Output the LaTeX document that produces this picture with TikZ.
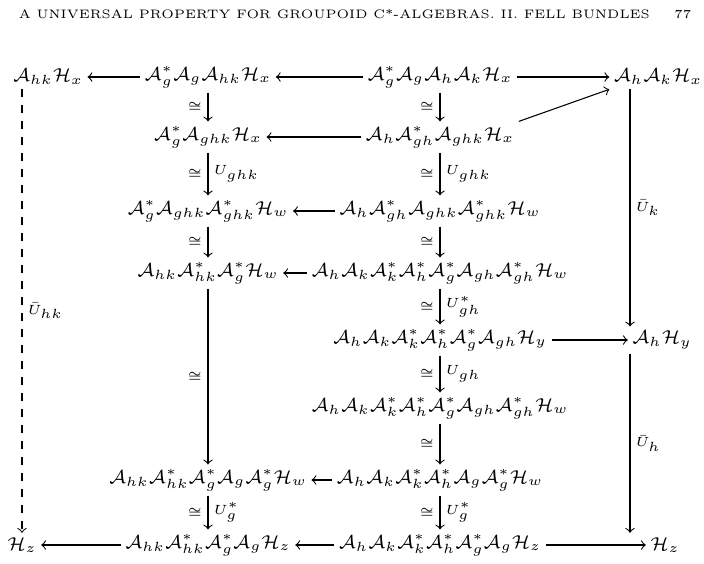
\documentclass[tikz,border=0pt]{standalone}
\usepackage{amsmath,amssymb}
\usetikzlibrary{calc}
\tikzset{
  obj/.style={inner sep=1.5pt,font=\fontsize{7.3}{9}\selectfont},
  map/.style={->,>=to},
  lab/.style={font=\fontsize{5.5}{7}\selectfont,inner sep=2pt},
}
\begin{document}
\begin{tikzpicture}[x=0.375pt,y=-0.375pt]
\useasboundingbox (0,0) rectangle (704,563);
\node[font=\fontsize{4.6}{6}\selectfont] at (355,14) {A UNIVERSAL PROPERTY FOR GROUPOID C*-ALGEBRAS. II. FELL BUNDLES\hspace{2em}77};
% row 1
\node[obj] (a1) at (48,77) {$\mathcal{A}_{hk}\mathcal{H}_x$};
\node[obj] (b1) at (208,77) {$\mathcal{A}_g^*\mathcal{A}_g\mathcal{A}_{hk}\mathcal{H}_x$};
\node[obj] (c1) at (440,77) {$\mathcal{A}_g^*\mathcal{A}_g\mathcal{A}_h\mathcal{A}_k\mathcal{H}_x$};
\node[obj] (d1) at (658,77) {$\mathcal{A}_h\mathcal{A}_k\mathcal{H}_x$};
% rows 2-7
\node[obj] (b2) at (208,137) {$\mathcal{A}_g^*\mathcal{A}_{ghk}\mathcal{H}_x$};
\node[obj] (c2) at (440,137) {$\mathcal{A}_h\mathcal{A}_{gh}^*\mathcal{A}_{ghk}\mathcal{H}_x$};
\node[obj] (b3) at (208,211) {$\mathcal{A}_g^*\mathcal{A}_{ghk}\mathcal{A}_{ghk}^*\mathcal{H}_w$};
\node[obj] (c3) at (440,211) {$\mathcal{A}_h\mathcal{A}_{gh}^*\mathcal{A}_{ghk}\mathcal{A}_{ghk}^*\mathcal{H}_w$};
\node[obj] (b4) at (208,273) {$\mathcal{A}_{hk}\mathcal{A}_{hk}^*\mathcal{A}_g^*\mathcal{H}_w$};
\node[obj] (c4) at (440,273) {$\mathcal{A}_h\mathcal{A}_k\mathcal{A}_k^*\mathcal{A}_h^*\mathcal{A}_g^*\mathcal{A}_{gh}\mathcal{A}_{gh}^*\mathcal{H}_w$};
\node[obj] (c5) at (440,340) {$\mathcal{A}_h\mathcal{A}_k\mathcal{A}_k^*\mathcal{A}_h^*\mathcal{A}_g^*\mathcal{A}_{gh}\mathcal{H}_y$};
\node[obj] (d5) at (662,340) {$\mathcal{A}_h\mathcal{H}_y$};
\node[obj] (c6) at (440,408) {$\mathcal{A}_h\mathcal{A}_k\mathcal{A}_k^*\mathcal{A}_h^*\mathcal{A}_g^*\mathcal{A}_{gh}\mathcal{A}_{gh}^*\mathcal{H}_w$};
\node[obj] (b7) at (208,480) {$\mathcal{A}_{hk}\mathcal{A}_{hk}^*\mathcal{A}_g^*\mathcal{A}_g\mathcal{A}_g^*\mathcal{H}_w$};
\node[obj] (c7) at (440,480) {$\mathcal{A}_h\mathcal{A}_k\mathcal{A}_k^*\mathcal{A}_h^*\mathcal{A}_g\mathcal{A}_g^*\mathcal{H}_w$};
% row 8
\node[obj] (a8) at (22,545) {$\mathcal{H}_z$};
\node[obj] (b8) at (208,545) {$\mathcal{A}_{hk}\mathcal{A}_{hk}^*\mathcal{A}_g^*\mathcal{A}_g\mathcal{H}_z$};
\node[obj] (c8) at (440,545) {$\mathcal{A}_h\mathcal{A}_k\mathcal{A}_k^*\mathcal{A}_h^*\mathcal{A}_g^*\mathcal{A}_g\mathcal{H}_z$};
\node[obj] (d8) at (665,545) {$\mathcal{H}_z$};
\coordinate (lc) at (22,0);
\coordinate (rc) at (630,0);
% horizontal
\draw[map] (b1) -- (a1);
\draw[map] (c1) -- (b1);
\draw[map] (c1) -- (d1);
\draw[map] (c2.north east) -- (d1.south west);
\draw[map] (c2) -- (b2);
\draw[map] (c3) -- (b3);
\draw[map] (c4) -- (b4);
\draw[map] (c5) -- (d5);
\draw[map] (c7) -- (b7);
\draw[map] (b8) -- (a8);
\draw[map] (c8) -- (b8);
\draw[map] (c8) -- (d8);
% vertical, middle columns
\draw[map] (b1) -- node[lab,left]{$\cong$} (b2);
\draw[map] (b2) -- node[lab,left]{$\cong$} node[lab,right]{$U_{ghk}$} (b3);
\draw[map] (b3) -- node[lab,left]{$\cong$} (b4);
\draw[map] (b4) -- node[lab,left]{$\cong$} (b7);
\draw[map] (b7) -- node[lab,left]{$\cong$} node[lab,right]{$U_g^*$} (b8);
\draw[map] (c1) -- node[lab,left]{$\cong$} (c2);
\draw[map] (c2) -- node[lab,left]{$\cong$} node[lab,right]{$U_{ghk}$} (c3);
\draw[map] (c3) -- node[lab,left]{$\cong$} (c4);
\draw[map] (c4) -- node[lab,left]{$\cong$} node[lab,right]{$U_{gh}^*$} (c5);
\draw[map] (c5) -- node[lab,left]{$\cong$} node[lab,right]{$U_{gh}$} (c6);
\draw[map] (c6) -- node[lab,left]{$\cong$} (c7);
\draw[map] (c7) -- node[lab,left]{$\cong$} node[lab,right]{$U_g^*$} (c8);
% outer columns
\draw[map,dashed] (a1.south -| lc) -- node[lab,right]{$\bar U_{hk}$} (a8.north -| lc);
\draw[map] (d1.south -| rc) -- node[lab,right]{$\bar U_k$} (d5.north -| rc);
\draw[map] (d5.south -| rc) -- node[lab,right]{$\bar U_h$} (d8.north -| rc);
\end{tikzpicture}
\end{document}
